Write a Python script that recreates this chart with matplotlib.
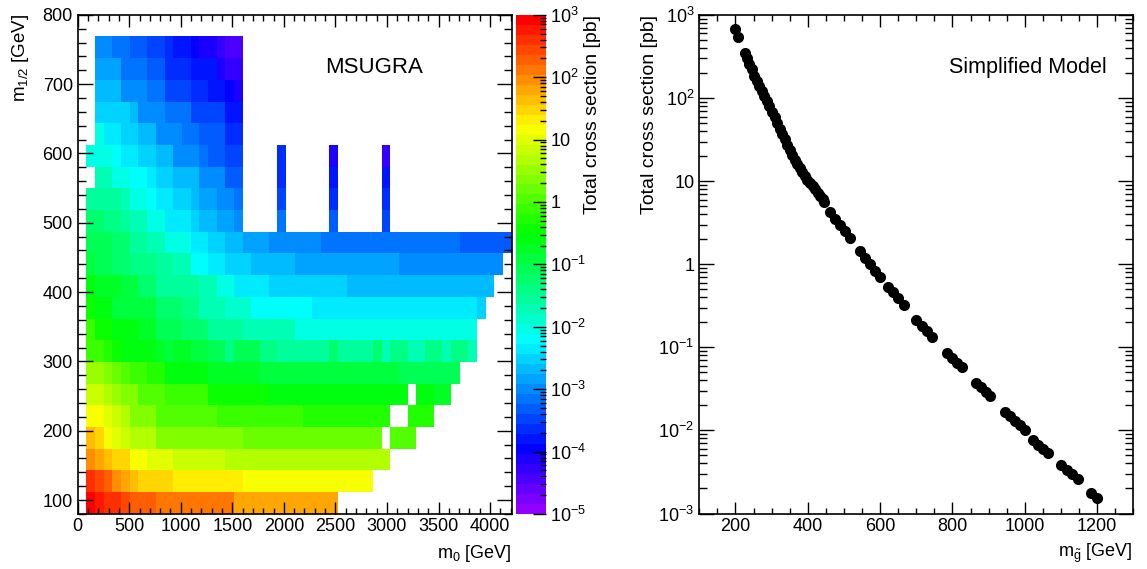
import numpy as np
import matplotlib
matplotlib.use("Agg")
import matplotlib.pyplot as plt
from matplotlib.colors import ListedColormap, LogNorm, hsv_to_rgb
from matplotlib.ticker import MultipleLocator, LogLocator, FuncFormatter, NullFormatter

plt.rcParams['font.family'] = ['Liberation Sans', 'DejaVu Sans']
plt.rcParams['mathtext.fontset'] = 'custom'
plt.rcParams['mathtext.rm'] = 'Liberation Sans'
plt.rcParams['mathtext.it'] = 'Liberation Sans:italic'
plt.rcParams['mathtext.default'] = 'regular'
plt.rcParams['axes.unicode_minus'] = False

# mSUGRA scan: 50 bins in m0, 23 bins in m1/2
m0_edges = np.linspace(0, 4210, 51)
m12_edges = np.linspace(80, 800, 24)

# one entry per m1/2 bin (lowest first): runs of (first m0 bin, last m0 bin, log10 sigma [pb])
msugra_rows = [
    [(1, 1, 3.0), (2, 2, 2.76), (3, 3, 2.64), (4, 4, 2.53), (5, 5, 2.41), (6, 8, 2.29), (9, 17, 2.05), (18, 29, 1.84)],
    [(1, 1, 2.53), (2, 2, 2.4), (3, 3, 2.2), (4, 4, 2.0), (5, 5, 1.85), (6, 6, 1.65), (7, 10, 1.5), (11, 18, 1.38), (19, 33, 1.22)],
    [(1, 1, 2.0), (2, 2, 1.8), (3, 3, 1.65), (4, 5, 1.5), (6, 7, 1.22), (8, 10, 1.05), (11, 16, 0.87), (17, 32, 0.69), (33, 35, 0.6)],
    [(1, 1, 1.6), (2, 2, 1.4), (3, 3, 1.22), (4, 4, 1.05), (5, 5, 0.87), (6, 8, 0.69), (9, 18, 0.39), (19, 34, 0.16), (36, 38, 0.05)],
    [(1, 2, 1.22), (3, 3, 1.05), (4, 4, 0.87), (5, 5, 0.63), (6, 8, 0.33), (9, 15, 0.0), (16, 25, -0.2), (26, 35, -0.32), (38, 40, -0.32)],
    [(1, 2, 0.87), (3, 3, 0.69), (4, 4, 0.5), (5, 6, 0.3), (7, 9, 0.1), (10, 14, -0.2), (15, 21, -0.45), (22, 37, -0.56),
     (39, 40, -0.56), (41, 42, -0.7)],
    [(1, 2, 0.5), (3, 3, 0.33), (4, 4, 0.2), (5, 5, 0.1), (6, 7, -0.05), (8, 9, -0.3), (10, 14, -0.56), (15, 20, -0.72),
     (21, 36, -0.97), (37, 43, -1.1)],
    [(1, 1, -0.08), (2, 2, -0.2), (3, 3, -0.32), (4, 4, -0.38), (5, 6, -0.56), (7, 8, -0.67), (9, 9, -0.76), (10, 10, -0.85),
     (11, 12, -0.8), (13, 14, -0.9), (15, 16, -1.15), (17, 17, -1.4), (18, 20, -1.13), (21, 22, -1.44), (23, 28, -1.56),
     (29, 29, -1.24), (30, 33, -1.56), (34, 34, -1.27), (35, 35, -1.68), (36, 37, -1.44), (38, 39, -1.74), (40, 41, -1.33),
     (42, 42, -1.77), (43, 44, -1.44), (45, 45, -1.74)],
    [(1, 1, -0.2), (2, 3, -0.38), (4, 6, -0.56), (7, 8, -0.8), (9, 11, -1.03), (12, 14, -1.27), (15, 18, -1.5), (19, 24, -1.74),
     (25, 40, -1.98), (41, 45, -2.1)],
    [(1, 1, -0.5), (2, 3, -0.67), (4, 5, -0.85), (6, 8, -1.0), (9, 11, -1.2), (12, 13, -1.35), (14, 16, -1.68), (17, 19, -1.9),
     (20, 26, -2.13), (27, 45, -2.33), (46, 46, -2.45)],
    [(1, 1, -0.67), (2, 4, -0.8), (5, 6, -1.0), (7, 8, -1.27), (9, 13, -1.5), (14, 15, -1.8), (16, 17, -2.1), (18, 21, -2.33),
     (22, 30, -2.45), (31, 47, -2.63)],
    [(1, 1, -0.9), (2, 3, -1.05), (4, 5, -1.2), (6, 8, -1.35), (9, 10, -1.6), (11, 12, -1.8), (13, 14, -2.2), (15, 16, -2.33),
     (17, 19, -2.45), (20, 24, -2.69), (25, 36, -2.81), (37, 48, -2.93)],
    [(1, 3, -1.15), (4, 5, -1.3), (6, 7, -1.5), (8, 9, -1.7), (10, 12, -2.0), (13, 14, -2.33), (15, 16, -2.45), (17, 18, -2.69),
     (19, 21, -2.81), (22, 27, -2.93), (28, 43, -3.1), (44, 49, -3.34)],
    [(1, 2, -1.27), (3, 4, -1.4), (5, 5, -1.6), (6, 7, -1.7), (8, 9, -1.98), (10, 12, -2.33), (13, 13, -2.45), (14, 15, -2.69),
     (16, 17, -2.81), (18, 18, -2.93), (23, 23, -3.16), (29, 29, -3.34), (35, 35, -3.52)],
    [(1, 2, -1.5), (3, 4, -1.6), (5, 5, -1.7), (6, 7, -1.98), (8, 8, -2.2), (9, 10, -2.33), (11, 12, -2.55), (13, 13, -2.69),
     (14, 15, -2.81), (16, 17, -3.04), (18, 18, -3.16), (23, 23, -3.52), (29, 29, -3.64), (35, 35, -3.64)],
    [(2, 3, -1.7), (4, 5, -1.98), (6, 7, -2.2), (8, 8, -2.33), (9, 10, -2.45), (11, 13, -2.69), (14, 14, -2.93), (15, 16, -3.04),
     (17, 18, -3.3), (23, 23, -3.64), (29, 29, -3.76), (35, 35, -3.87)],
    [(1, 3, -1.98), (4, 4, -2.2), (5, 6, -2.33), (7, 8, -2.55), (9, 10, -2.69), (11, 13, -2.93), (14, 14, -3.1), (15, 16, -3.3),
     (17, 18, -3.52), (23, 23, -3.64), (29, 29, -4.1), (35, 35, -4.35)],
    [(2, 2, -2.1), (3, 4, -2.33), (5, 6, -2.45), (7, 8, -2.69), (9, 11, -2.93), (12, 13, -3.1), (14, 15, -3.3), (16, 16, -3.4),
     (17, 18, -3.64)],
    [(2, 5, -2.45), (6, 6, -2.69), (7, 8, -2.93), (9, 9, -3.04), (10, 12, -3.2), (13, 14, -3.43), (15, 16, -3.55), (17, 17, -3.76),
     (18, 18, -3.87)],
    [(2, 4, -2.69), (5, 5, -2.93), (6, 7, -3.04), (8, 9, -3.2), (10, 12, -3.43), (13, 14, -3.64), (15, 16, -3.76), (17, 17, -3.95),
     (18, 18, -4.1)],
    [(2, 4, -2.9), (5, 7, -3.2), (8, 9, -3.4), (10, 12, -3.64), (13, 14, -3.76), (15, 15, -3.87), (16, 16, -4.1), (17, 18, -4.25)],
    [(2, 3, -3.04), (4, 5, -3.16), (6, 7, -3.34), (8, 9, -3.43), (10, 10, -3.64), (11, 12, -3.8), (13, 13, -3.9), (14, 15, -4.1),
     (16, 16, -4.2), (17, 18, -4.44)],
    [],
]

# simplified model: gluino mass [GeV] and log10 of total cross section [pb]
gluino_mass = [200, 206, 225, 231, 238, 245, 252, 259, 266, 273, 280, 287, 294, 301, 308, 315, 322, 329, 336, 343,
               350, 357, 364, 371, 378, 385, 392, 399, 406, 413, 420, 427, 434, 441, 446,
               460, 474, 488, 502, 516,
               543, 557, 571, 586, 600,
               622, 636, 650, 665,
               700, 715, 729, 744,
               785, 798, 812, 825,
               866, 879, 892, 905,
               945, 959, 972, 986, 1000,
               1023, 1037, 1051, 1064,
               1101, 1116, 1131, 1146,
               1184, 1200]
gluino_log_xsec = [2.83, 2.74, 2.54, 2.48, 2.41, 2.35, 2.27, 2.20, 2.14, 2.08, 2.02, 1.96, 1.90, 1.83, 1.77, 1.70, 1.63, 1.57, 1.51, 1.44,
                   1.38, 1.32, 1.26, 1.21, 1.16, 1.11, 1.06, 1.02, 0.98, 0.94, 0.90, 0.86, 0.82, 0.78, 0.75,
                   0.63, 0.55, 0.47, 0.40, 0.32,
                   0.16, 0.08, 0.00, -0.08, -0.15,
                   -0.27, -0.34, -0.41, -0.49,
                   -0.67, -0.74, -0.80, -0.87,
                   -1.07, -1.13, -1.19, -1.24,
                   -1.43, -1.48, -1.54, -1.59,
                   -1.78, -1.83, -1.89, -1.94, -2.00,
                   -2.12, -2.17, -2.22, -2.27,
                   -2.42, -2.48, -2.53, -2.59,
                   -2.75, -2.81]

# fill the grid, empty bins stay white
xsec = np.full((len(m12_edges) - 1, len(m0_edges) - 1), np.nan)
for i, runs in enumerate(msugra_rows):
    for first, last, lg in runs:
        xsec[i, first:last + 1] = 10.0 ** lg

# 50 step violet -> red palette
hues = [(280 - (j + 1) * 5.6) / 360 for j in range(50)]
palette = ListedColormap(hsv_to_rgb(np.array([[h, 1.0, 1.0] for h in hues])))


def log_label(v, pos):
    e = int(round(np.log10(v)))
    if e == 0:
        return '1'
    if e == 1:
        return '10'
    return '$10^{%d}$' % e


W, H = 1147, 569
fig = plt.figure(figsize=(W / 100, H / 100), dpi=100)


def px_axes(x0, y0, x1, y1):
    return fig.add_axes([x0 / W, 1 - y1 / H, (x1 - x0) / W, (y1 - y0) / H])


ax1 = px_axes(77.7, 14.8, 511.7, 513.9)
cax = px_axes(515.5, 14.8, 546, 513.9)
ax2 = px_axes(699.3, 15, 1133.3, 513.5)

fs = 13

# left: cross section over the mSUGRA plane
mesh = ax1.pcolormesh(m0_edges, m12_edges, np.ma.masked_invalid(xsec), cmap=palette,
                      norm=LogNorm(1e-5, 1e3), shading='flat', antialiased=False, linewidth=0)
ax1.set_xlim(0, 4210)
ax1.set_ylim(80, 800)
ax1.xaxis.set_major_locator(MultipleLocator(500))
ax1.xaxis.set_minor_locator(MultipleLocator(100))
ax1.yaxis.set_major_locator(MultipleLocator(100))
ax1.yaxis.set_minor_locator(MultipleLocator(20))
ax1.tick_params(which='both', direction='in', top=True, right=True, labelsize=fs, width=1)
ax1.tick_params(axis='x', which='major', length=8.6, pad=3)
ax1.tick_params(axis='x', which='minor', length=4.3)
ax1.tick_params(axis='y', which='major', length=11, pad=3.5)
ax1.tick_params(axis='y', which='minor', length=6)
for s in ax1.spines.values():
    s.set_linewidth(1.2)
ax1.text(374.5 / W, 1 - 73 / H, 'MSUGRA', transform=fig.transFigure, ha='center', va='baseline', fontsize=16)

cb = fig.colorbar(mesh, cax=cax)
cb.outline.set_visible(False)
cax.yaxis.set_ticks_position('right')
cax.yaxis.set_major_locator(LogLocator(base=10, numticks=20))
cax.yaxis.set_minor_locator(LogLocator(base=10, subs=np.arange(2, 10), numticks=20))
cax.yaxis.set_major_formatter(FuncFormatter(log_label))
cax.yaxis.set_minor_formatter(NullFormatter())
cax.tick_params(which='both', direction='in', labelsize=fs, width=1, pad=3)
cax.tick_params(which='major', length=9.4)
cax.tick_params(which='minor', length=4.3)

fig.text(511 / W, 1 - 558 / H, 'm$_{0}$ [GeV]', ha='right', va='baseline', fontsize=fs)
fig.text(25 / W, 1 - 14 / H, 'm$_{1/2}$ [GeV]', rotation=90, rotation_mode='anchor',
         ha='right', va='baseline', fontsize=fs + 0.5)
fig.text(597 / W, 1 - 15 / H, 'Total cross section [pb]', rotation=90, rotation_mode='anchor',
         ha='right', va='baseline', fontsize=14)

# right: gluino pair cross section
ax2.plot(gluino_mass, 10.0 ** np.array(gluino_log_xsec), 'o', color='black', markersize=8, markeredgewidth=0)
ax2.set_yscale('log')
ax2.set_xlim(100, 1300)
ax2.set_ylim(1e-3, 1e3)
ax2.xaxis.set_major_locator(MultipleLocator(200))
ax2.xaxis.set_minor_locator(MultipleLocator(50))
ax2.yaxis.set_major_locator(LogLocator(base=10, numticks=20))
ax2.yaxis.set_minor_locator(LogLocator(base=10, subs=np.arange(2, 10), numticks=20))
ax2.yaxis.set_major_formatter(FuncFormatter(log_label))
ax2.yaxis.set_minor_formatter(NullFormatter())
ax2.tick_params(which='both', direction='in', top=True, right=True, labelsize=fs, width=1)
ax2.tick_params(axis='x', which='major', length=8.6, pad=3)
ax2.tick_params(axis='x', which='minor', length=4.3)
ax2.tick_params(axis='y', which='major', length=11, pad=3.5)
ax2.tick_params(axis='y', which='minor', length=6)
for s in ax2.spines.values():
    s.set_linewidth(1.2)
ax2.text(1028 / W, 1 - 73 / H, 'Simplified Model', transform=fig.transFigure, ha='center', va='baseline', fontsize=15.5)

fig.text(1132 / W, 1 - 557 / H, r'm$_{\tilde{g}}$ [GeV]', ha='right', va='baseline', fontsize=fs)
fig.text(654 / W, 1 - 15 / H, 'Total cross section [pb]', rotation=90, rotation_mode='anchor',
         ha='right', va='baseline', fontsize=14)

fig.savefig('out.png', dpi=100)
